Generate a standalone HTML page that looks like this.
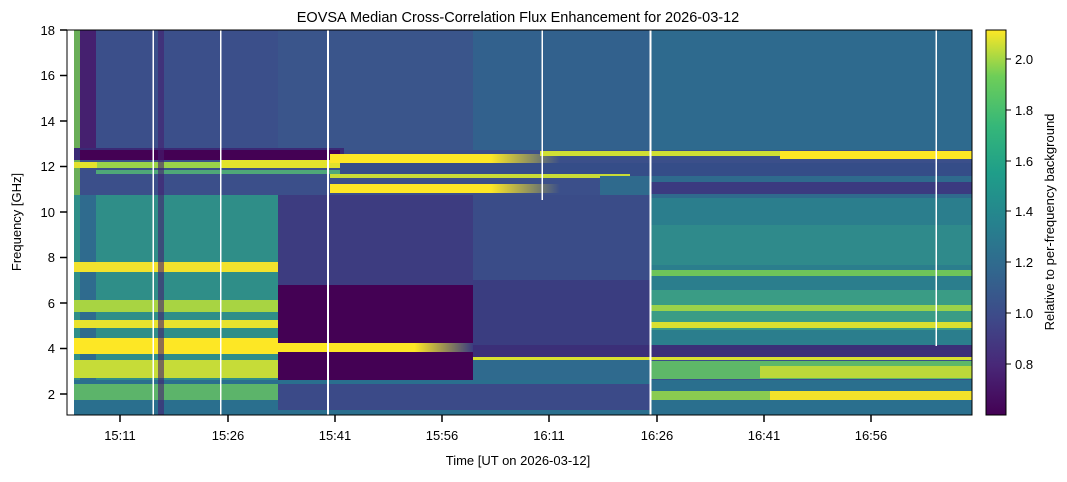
<!DOCTYPE html>
<html><head><meta charset="utf-8"><style>
body{margin:0;background:#fff;}
svg text{font-family:"Liberation Sans",sans-serif;fill:#000;}
</style></head><body>
<svg width="1067" height="477" viewBox="0 0 1067 477" xmlns="http://www.w3.org/2000/svg">
<defs>
<linearGradient id="cb" x1="0" y1="1" x2="0" y2="0">
<stop offset="0" stop-color="#440154"/><stop offset="0.13" stop-color="#482878"/>
<stop offset="0.25" stop-color="#3e4989"/><stop offset="0.38" stop-color="#31688e"/>
<stop offset="0.5" stop-color="#26828e"/><stop offset="0.63" stop-color="#1f9e89"/>
<stop offset="0.75" stop-color="#35b779"/><stop offset="0.88" stop-color="#6ece58"/>
<stop offset="1" stop-color="#fde725"/></linearGradient>
<linearGradient id="fadeB" x1="0" y1="0" x2="1" y2="0"><stop offset="0" stop-color="#fde725"/><stop offset="0.7" stop-color="#fde725"/><stop offset="1" stop-color="#3b4f8a"/></linearGradient>
<linearGradient id="fadeP" x1="0" y1="0" x2="1" y2="0"><stop offset="0" stop-color="#fde725"/><stop offset="0.7" stop-color="#fde725"/><stop offset="1" stop-color="#3a3d80"/></linearGradient>
</defs>
<text x="518" y="22" font-size="14.5" text-anchor="middle">EOVSA Median Cross-Correlation Flux Enhancement for 2026-03-12</text>
<g>
<rect x="67" y="30" width="905" height="385" fill="#3b4f8a"/>
<rect x="74" y="30" width="6" height="385" fill="#6aae58"/>
<rect x="80" y="30" width="16" height="120" fill="#45206f"/>
<rect x="278" y="30" width="195" height="120" fill="#3a558b"/>
<rect x="473" y="30" width="499" height="120" fill="#32618d"/>
<rect x="650" y="30" width="322" height="120" fill="#2e6a8e"/>
<rect x="74" y="148" width="270" height="12" fill="#3a2a75"/>
<rect x="80" y="150" width="260" height="10" fill="#440154"/>
<rect x="96" y="162" width="240" height="6" fill="#9ad24a"/>
<rect x="220" y="160" width="120" height="8" fill="#e2e22c"/>
<rect x="67" y="162" width="30" height="6" fill="#e2e22c"/>
<rect x="330" y="154" width="230" height="9" fill="url(#fadeB)"/>
<rect x="540" y="151" width="432" height="5" fill="#d0de34"/>
<rect x="780" y="151" width="192" height="8" fill="#fde725"/>
<rect x="96" y="170" width="876" height="4" fill="#4fa878"/>
<rect x="340" y="163" width="632" height="14" fill="#354d88"/>
<rect x="330" y="174" width="300" height="4" fill="#c8dc36"/>
<rect x="330" y="184" width="230" height="9" fill="url(#fadeB)"/>
<rect x="600" y="176" width="372" height="22" fill="#2f6a8d"/>
<rect x="650" y="182" width="322" height="12" fill="#3b3a80"/>
<rect x="74" y="195" width="204" height="190" fill="#2f8e88"/>
<rect x="80" y="195" width="16" height="190" fill="#2f6b8e"/>
<rect x="278" y="195" width="195" height="90" fill="#3d3c80"/>
<rect x="278" y="285" width="195" height="58" fill="#440154"/>
<rect x="473" y="195" width="177" height="150" fill="#3a4c88"/>
<rect x="473" y="280" width="177" height="65" fill="#3a3d80"/>
<rect x="650" y="198" width="322" height="147" fill="#2b7e8d"/>
<rect x="650" y="225" width="322" height="40" fill="#2f8a8b"/>
<rect x="650" y="290" width="322" height="40" fill="#3a9c85"/>
<rect x="74" y="262" width="204" height="10" fill="#f2e22d"/>
<rect x="74" y="300" width="204" height="12" fill="#a8d442"/>
<rect x="74" y="320" width="204" height="8" fill="#e8e22e"/>
<rect x="74" y="338" width="204" height="16" fill="#fde725"/>
<rect x="278" y="343" width="195" height="9" fill="url(#fadeP)"/>
<rect x="74" y="360" width="204" height="18" fill="#c6dc38"/>
<rect x="650" y="322" width="322" height="6" fill="#d8e030"/>
<rect x="650" y="305" width="322" height="6" fill="#9ad24a"/>
<rect x="650" y="270" width="322" height="6" fill="#6ec45a"/>
<rect x="278" y="352" width="195" height="28" fill="#440154"/>
<rect x="473" y="345" width="499" height="12" fill="#3b2f78"/>
<rect x="473" y="357" width="499" height="3" fill="#d8e030"/>
<rect x="650" y="361" width="322" height="18" fill="#5eb868"/>
<rect x="760" y="366" width="212" height="12" fill="#bcd83a"/>
<rect x="473" y="360" width="177" height="20" fill="#2f6a8e"/>
<rect x="74" y="380" width="898" height="35" fill="#2a6f8e"/>
<rect x="278" y="384" width="372" height="26" fill="#3b4a88"/>
<rect x="650" y="391" width="322" height="9" fill="#8acb50"/>
<rect x="770" y="391" width="202" height="9" fill="#f2e22a"/>
<rect x="74" y="384" width="204" height="16" fill="#5cb46a"/>
<rect x="158" y="30" width="6" height="385" fill="#45206f" opacity="0.6"/>
<g fill="#fff">
<rect x="67" y="30" width="7" height="385"/>
<rect x="152.5" y="30" width="1.5" height="385"/>
<rect x="220" y="30" width="1.5" height="385"/>
<rect x="327" y="30" width="2" height="385"/>
<rect x="541.5" y="30" width="1.5" height="170"/>
<rect x="649.5" y="30" width="2" height="385"/>
<rect x="935.5" y="30" width="1.5" height="316"/>
</g>
<rect x="67" y="30" width="905" height="385" fill="none" stroke="#000" stroke-width="1"/>
</g>
<g stroke="#000" stroke-width="1.5">
<line x1="60" y1="30" x2="67" y2="30"/><line x1="60" y1="75.5" x2="67" y2="75.5"/>
<line x1="60" y1="121" x2="67" y2="121"/><line x1="60" y1="166.5" x2="67" y2="166.5"/>
<line x1="60" y1="212" x2="67" y2="212"/><line x1="60" y1="257.5" x2="67" y2="257.5"/>
<line x1="60" y1="303" x2="67" y2="303"/><line x1="60" y1="348.5" x2="67" y2="348.5"/>
<line x1="60" y1="394" x2="67" y2="394"/>
<line x1="120" y1="415" x2="120" y2="422"/><line x1="228" y1="415" x2="228" y2="422"/>
<line x1="335" y1="415" x2="335" y2="422"/><line x1="442" y1="415" x2="442" y2="422"/>
<line x1="549" y1="415" x2="549" y2="422"/><line x1="657" y1="415" x2="657" y2="422"/>
<line x1="764" y1="415" x2="764" y2="422"/><line x1="871" y1="415" x2="871" y2="422"/>
</g>
<g font-size="13" text-anchor="end">
<text x="55" y="35">18</text><text x="55" y="80">16</text><text x="55" y="126">14</text>
<text x="55" y="171">12</text><text x="55" y="217">10</text><text x="55" y="262">8</text>
<text x="55" y="308">6</text><text x="55" y="353">4</text><text x="55" y="399">2</text>
</g>
<g font-size="13" text-anchor="middle">
<text x="120" y="440">15:11</text><text x="228" y="440">15:26</text><text x="335" y="440">15:41</text>
<text x="442" y="440">15:56</text><text x="549" y="440">16:11</text><text x="657" y="440">16:26</text>
<text x="764" y="440">16:41</text><text x="871" y="440">16:56</text>
<text x="518" y="465">Time [UT on 2026-03-12]</text>
</g>
<text transform="translate(21,222) rotate(-90)" font-size="13" text-anchor="middle">Frequency [GHz]</text>
<rect x="986" y="30" width="20" height="385" fill="url(#cb)" stroke="#000" stroke-width="1"/>
<g stroke="#000" stroke-width="1">
<line x1="1006" y1="59" x2="1011" y2="59"/><line x1="1006" y1="110" x2="1011" y2="110"/>
<line x1="1006" y1="161" x2="1011" y2="161"/><line x1="1006" y1="211" x2="1011" y2="211"/>
<line x1="1006" y1="262" x2="1011" y2="262"/><line x1="1006" y1="313" x2="1011" y2="313"/>
<line x1="1006" y1="364" x2="1011" y2="364"/>
</g>
<g font-size="13">
<text x="1015" y="64">2.0</text><text x="1015" y="115">1.8</text><text x="1015" y="166">1.6</text>
<text x="1015" y="216">1.4</text><text x="1015" y="267">1.2</text><text x="1015" y="318">1.0</text>
<text x="1015" y="369">0.8</text>
</g>
<text transform="translate(1054,222) rotate(-90)" font-size="13" text-anchor="middle">Relative to per-frequency background</text>
</svg>
</body></html>
